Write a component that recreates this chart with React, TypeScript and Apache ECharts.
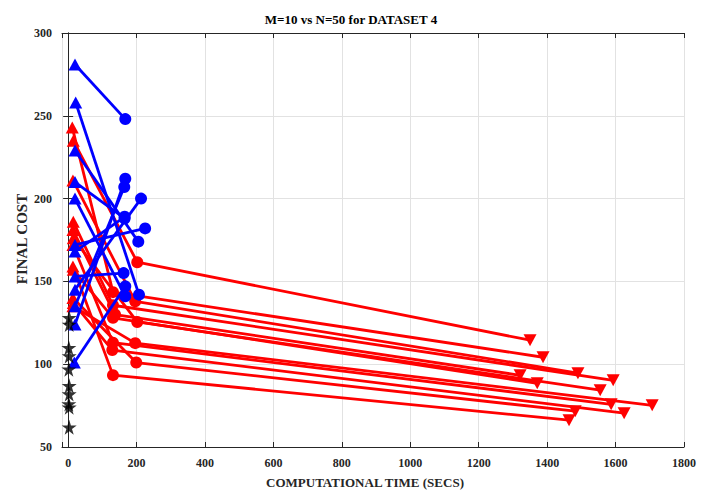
import React, { useEffect, useRef } from "react";
import * as echarts from "echarts";

// Blue runs: start (triangle up) -> end (circle)
const blueStartX = [20, 22, 20, 20, 20, 20, 20, 20, 18, 20, 20, 20];
const blueStartY = [281, 258, 229, 210, 200, 172, 153, 124, 101, 135, 145, 168];
const blueEndX = [167, 207, 205, 165, 167, 225, 162, 167, 167, 164, 213, 165];
const blueEndY = [248, 142, 174, 188, 141, 182, 155, 212, 147, 207, 200, 189];

// Red runs: start (triangle up) -> middle (circle) -> end (triangle down)
const redStartX = [12, 15, 14, 15, 14, 15, 14, 14, 15, 14, 15, 14];
const redStartY = [243, 235, 211, 186, 181, 176, 172, 159, 157, 140, 137, 135];
const redMidX = [131, 202, 196, 131, 137, 202, 131, 131, 131, 199, 129, 196];
const redMidY = [143.5, 161.6, 138, 135.6, 130, 125.5, 113, 93.4, 128, 101, 108.5, 112.7];
const redEndX = [1388, 1350, 1490, 1593, 1321, 1555, 1587, 1464, 1371, 1482, 1625, 1707];
const redEndY = [104.2, 114.5, 94.6, 90.3, 93.3, 84.3, 75.8, 66.2, 88.5, 71.6, 70.4, 75.2];

// Black stars
const starX = [3, 3, 2, 3, 2, 3, 3, 2, 3, 3];
const starY = [128, 124, 110, 105, 97, 87, 82, 76, 74, 62];

const xTicks = [0, 200, 400, 600, 800, 1000, 1200, 1400, 1600, 1800];

const STAR = "path://M50,0 L61,35 L98,35 L68,57 L79,91 L50,70 L21,91 L32,57 L2,35 L39,35 Z";
const FONT = "'Liberation Serif', 'Times New Roman', serif";

export default function App() {
  const ref = useRef<HTMLDivElement>(null);
  useEffect(() => {
    if (!ref.current) return;
    const chart = echarts.init(ref.current, undefined, { renderer: "svg" });
    const series: any[] = [];
    redStartY.forEach((_, i) => {
      series.push({
        type: "line",
        clip: false,
        z: 2,
        lineStyle: { color: "#ff0000", width: 2.8 },
        itemStyle: { color: "#ff0000", borderWidth: 0 },
        data: [
          { value: [redStartX[i], redStartY[i]], symbol: "triangle", symbolSize: [13, 12] },
          { value: [redMidX[i], redMidY[i]], symbol: "circle", symbolSize: 12 },
          { value: [redEndX[i], redEndY[i]], symbol: "triangle", symbolSize: [13, 12], symbolRotate: 180 },
        ],
      });
    });
    blueStartY.forEach((_, i) => {
      series.push({
        type: "line",
        clip: false,
        z: 3,
        lineStyle: { color: "#0000ff", width: 2.8 },
        itemStyle: { color: "#0000ff", borderWidth: 0 },
        data: [
          { value: [blueStartX[i], blueStartY[i]], symbol: "triangle", symbolSize: [13, 12] },
          { value: [blueEndX[i], blueEndY[i]], symbol: "circle", symbolSize: 12 },
        ],
      });
    });
    series.push({
      type: "scatter",
      clip: false,
      z: 4,
      symbol: STAR,
      symbolSize: 15,
      itemStyle: { color: "#000000" },
      data: starX.map((x, i) => [x, starY[i]]),
    });

    const axisLineStyle = { color: "#262626", width: 1 };
    const labelStyle = { color: "#262626", fontFamily: FONT, fontWeight: "bold", fontSize: 12 };

    chart.setOption({
      animation: false,
      backgroundColor: "#ffffff",
      grid: { left: 62, right: 23, top: 33, bottom: 48, containLabel: false },
      graphic: [
        {
          type: "text",
          x: 351,
          y: 19,
          style: {
            text: "M=10 vs N=50 for DATASET 4",
            font: `bold 13px ${FONT}`,
            fill: "#000000",
            align: "center",
            verticalAlign: "middle",
          },
        },
        {
          type: "text",
          x: 365,
          y: 482,
          style: {
            text: "COMPUTATIONAL TIME (SECS)",
            font: `bold 13px ${FONT}`,
            fill: "#262626",
            align: "center",
            verticalAlign: "middle",
          },
        },
        {
          type: "text",
          x: 22,
          y: 239,
          rotation: Math.PI / 2,
          style: {
            text: "FINAL COST",
            font: `bold 15px ${FONT}`,
            fill: "#262626",
            align: "center",
            verticalAlign: "middle",
          },
        },
      ],
      xAxis: [
        {
          type: "value",
          min: -18,
          max: 1800,
          splitNumber: 9,
          minInterval: 200,
          maxInterval: 200,
          axisLine: { show: true, lineStyle: axisLineStyle },
          axisTick: { show: true, inside: true, length: 5, lineStyle: axisLineStyle },
          axisLabel: {
            ...labelStyle,
            margin: 10,
            formatter: (v: number) => (xTicks.indexOf(v) >= 0 ? String(v) : ""),
          },
          splitLine: { show: true, lineStyle: { color: "#e2e2e2", width: 1 } },
        },
        {
          type: "value",
          position: "top",
          min: -18,
          max: 1800,
          splitNumber: 9,
          minInterval: 200,
          maxInterval: 200,
          axisLine: { show: true, lineStyle: axisLineStyle },
          axisTick: { show: true, inside: true, length: 5, lineStyle: axisLineStyle },
          axisLabel: { show: false },
          splitLine: { show: false },
        },
      ],
      yAxis: [
        {
          type: "value",
          min: 50,
          max: 300,
          interval: 50,
          axisLine: { show: true, lineStyle: axisLineStyle },
          axisTick: { show: true, inside: true, length: 5, lineStyle: axisLineStyle },
          axisLabel: { ...labelStyle, margin: 10 },
          splitLine: { show: true, lineStyle: { color: "#e2e2e2", width: 1 } },
        },
        {
          type: "value",
          position: "right",
          min: 50,
          max: 300,
          interval: 50,
          axisLine: { show: true, lineStyle: axisLineStyle },
          axisTick: { show: true, inside: true, length: 5, lineStyle: axisLineStyle },
          axisLabel: { show: false },
          splitLine: { show: false },
        },
      ],
      series,
    });
    return () => chart.dispose();
  }, []);
  return (
    <div
      ref={ref}
      style={{ position: "fixed", left: 0, top: 0, width: 707, height: 495, background: "#fff" }}
    />
  );
}
